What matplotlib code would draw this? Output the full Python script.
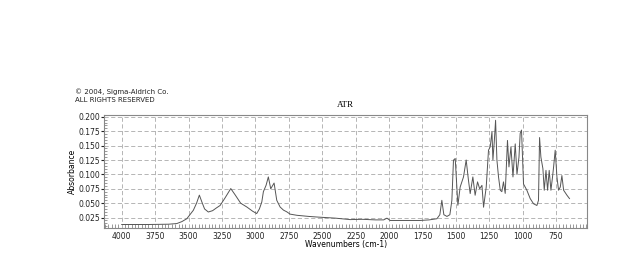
import matplotlib
matplotlib.use("Agg")
import matplotlib.pyplot as plt
from matplotlib.ticker import MultipleLocator, FormatStrFormatter

wavenumber = [4000, 3800, 3650, 3588, 3550, 3513, 3464, 3440, 3419, 3400, 3380, 3352, 3320,
              3290, 3264, 3230, 3184, 3150, 3110, 3064, 3020, 2990, 2970, 2952, 2940, 2920,
              2903, 2885, 2860, 2840, 2815, 2790, 2765, 2740, 2690, 2600, 2540, 2400, 2291,
              2200, 2100, 2040, 2016, 1992, 1900, 1767, 1700, 1642, 1620, 1605, 1590, 1567,
              1545, 1530, 1518, 1505, 1485, 1468, 1443, 1423, 1406, 1393, 1373, 1356, 1338,
              1322, 1305, 1293, 1273, 1256, 1243, 1230, 1223, 1213, 1203, 1193, 1181, 1168,
              1156, 1144, 1131, 1114, 1103, 1088, 1073, 1056, 1043, 1028, 1019, 1009, 994,
              969, 944, 919, 894, 882, 874, 864, 849, 839, 826, 814, 802, 789, 777, 769, 757,
              744, 732, 719, 707, 694, 669, 650]
absorbance = [0.013, 0.013, 0.0135, 0.0146, 0.018, 0.023, 0.0377, 0.050, 0.064, 0.052, 0.040,
              0.0347, 0.037, 0.042, 0.046, 0.058, 0.0754, 0.064, 0.050, 0.0434, 0.036, 0.032,
              0.040, 0.052, 0.070, 0.081, 0.0956, 0.075, 0.085, 0.055, 0.0434, 0.038, 0.035,
              0.031, 0.029, 0.027, 0.026, 0.024, 0.0215, 0.022, 0.021, 0.021, 0.024, 0.020,
              0.020, 0.020, 0.021, 0.023, 0.030, 0.055, 0.030, 0.027, 0.030, 0.055, 0.1247,
              0.1276, 0.0464, 0.078, 0.0956, 0.125, 0.090, 0.0667, 0.0956, 0.0638, 0.087,
              0.075, 0.081, 0.043, 0.078, 0.142, 0.148, 0.174, 0.125, 0.156, 0.194, 0.125,
              0.0956, 0.0725, 0.070, 0.087, 0.067, 0.159, 0.113, 0.148, 0.0956, 0.153, 0.100,
              0.130, 0.171, 0.177, 0.0833, 0.0725, 0.058, 0.049, 0.046, 0.055, 0.164, 0.130,
              0.110, 0.0725, 0.107, 0.0725, 0.107, 0.0725, 0.0956, 0.113, 0.142, 0.0956,
              0.0725, 0.078, 0.098, 0.0725, 0.0638, 0.058]

x_ticks = [4000, 3750, 3500, 3250, 3000, 2750, 2500, 2250, 2000, 1750, 1500, 1250, 1000, 750]
y_ticks = [0.025, 0.050, 0.075, 0.100, 0.125, 0.150, 0.175, 0.200]

fig = plt.figure(figsize=(6.4, 2.78), dpi=100)
ax = fig.add_axes([0.163, 0.179, 0.754, 0.407])
ax.plot(wavenumber, absorbance, color="#555555", lw=0.7)
ax.set_xlim(4130, 520)
ax.set_ylim(0.0065, 0.203)
ax.set_xticks(x_ticks)
ax.set_yticks(y_ticks)
ax.yaxis.set_major_formatter(FormatStrFormatter("%.3f"))
ax.xaxis.set_minor_locator(MultipleLocator(25))
ax.yaxis.set_minor_locator(MultipleLocator(0.005))
ax.grid(True, which="major", color="#aaaaaa", linestyle=(0, (5, 3)), lw=0.6)
for s in ax.spines.values():
    s.set_color("#888888")
    s.set_linewidth(0.8)
ax.tick_params(axis="x", which="major", length=0, labelsize=5.5, pad=3, colors="#222222")
ax.tick_params(axis="x", which="minor", direction="in", length=3, color="#888888")
ax.tick_params(axis="y", which="major", direction="out", length=2, labelsize=5.5, pad=1,
               colors="#222222")
ax.tick_params(axis="y", which="minor", direction="in", length=2, color="#888888")
ax.set_xlabel("Wavenumbers (cm-1)", fontsize=5.5, labelpad=-1)
ax.set_ylabel("Absorbance", fontsize=5.5, labelpad=1)
ax.set_title("ATR", fontsize=6.5, family="Liberation Serif", pad=6)
fig.text(0.117, 0.662, "© 2004, Sigma-Aldrich Co.", fontsize=5, color="#222222")
fig.text(0.117, 0.633, "ALL RIGHTS RESERVED", fontsize=5, color="#222222")
fig.savefig("out.png", dpi=100)
